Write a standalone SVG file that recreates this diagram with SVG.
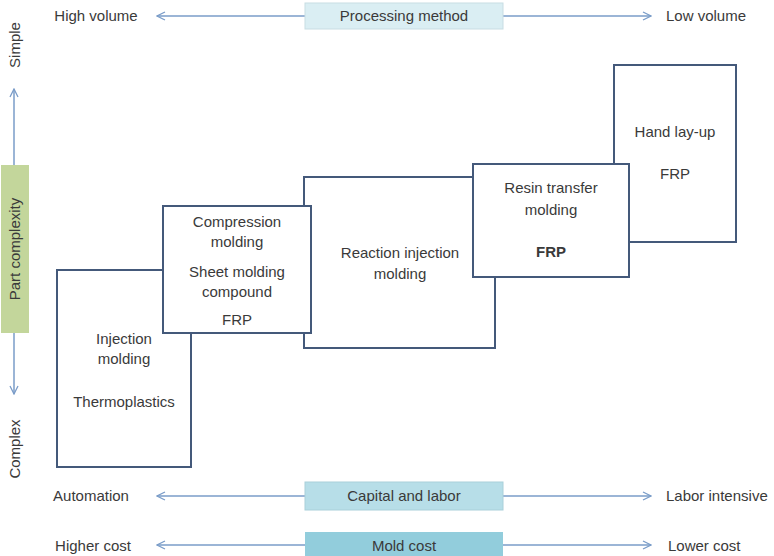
<svg xmlns="http://www.w3.org/2000/svg" width="774" height="556" viewBox="0 0 774 556">
<defs>
<marker id="ah" viewBox="0 0 10 10" refX="9" refY="5" markerWidth="10" markerHeight="10" markerUnits="userSpaceOnUse" orient="auto-start-reverse">
<path d="M1,1 L9,5 L1,9" fill="none" stroke="#7A9CC8" stroke-width="1.3"/>
</marker>
</defs>
<style>
text{font-family:"Liberation Sans",Arial,sans-serif;font-size:15px;fill:#3a3a3a;}
.c{text-anchor:middle;}
.b{font-weight:bold;}
.node{fill:#fff;stroke:#44597A;stroke-width:2;}
.conn{stroke:#7A9CC8;stroke-width:1.5;fill:none;}
</style>
<rect width="774" height="556" fill="#fff"/>
<g id="connectors">
<line class="conn" x1="305" y1="16" x2="157" y2="16" marker-end="url(#ah)"/>
<line class="conn" x1="503" y1="16" x2="651" y2="16" marker-end="url(#ah)"/>
<line class="conn" x1="305" y1="496" x2="157" y2="496" marker-end="url(#ah)"/>
<line class="conn" x1="503" y1="496" x2="651" y2="496" marker-end="url(#ah)"/>
<line class="conn" x1="305" y1="545" x2="157" y2="545" marker-end="url(#ah)"/>
<line class="conn" x1="503" y1="545" x2="651" y2="545" marker-end="url(#ah)"/>
<line class="conn" x1="14" y1="165" x2="14" y2="89" marker-end="url(#ah)"/>
<line class="conn" x1="14" y1="333" x2="14" y2="394" marker-end="url(#ah)"/>
</g>
<g id="axis-top">
<text x="96" y="21" class="c">High volume</text>
<rect x="305" y="3" width="198" height="26" fill="#DAEEF3" stroke="#C8DDE3" stroke-width="1"/>
<text x="404" y="21" class="c">Processing method</text>
<text x="666" y="21">Low volume</text>
</g>
<g id="axis-labor">
<text x="91" y="501" class="c">Automation</text>
<rect x="305" y="482" width="198" height="28" fill="#B7DEE8" stroke="#A9D0DA" stroke-width="1"/>
<text x="404" y="501" class="c">Capital and labor</text>
<text x="666" y="501">Labor intensive</text>
</g>
<g id="axis-cost">
<text x="93" y="551" class="c">Higher cost</text>
<rect x="305" y="532" width="198" height="24" fill="#92CDDC"/>
<text x="404" y="551" class="c">Mold cost</text>
<text x="668" y="551">Lower cost</text>
</g>
<g id="axis-left">
<text x="0" y="0" class="c" transform="translate(20,45) rotate(-90)">Simple</text>
<rect x="1" y="165" width="28" height="168" fill="#C3D69B"/>
<text x="0" y="0" class="c" transform="translate(20,249) rotate(-90)">Part complexity</text>
<text x="0" y="0" class="c" transform="translate(20,449) rotate(-90)">Complex</text>
</g>
<g id="injection">
<rect class="node" x="57" y="270" width="134" height="197"/>
<text x="124" y="344" class="c">Injection</text>
<text x="124" y="364" class="c">molding</text>
<text x="124" y="407" class="c">Thermoplastics</text>
</g>
<g id="reaction">
<rect class="node" x="304" y="177" width="191" height="171"/>
<text x="400" y="258" class="c">Reaction injection</text>
<text x="400" y="279" class="c">molding</text>
</g>
<g id="compression">
<rect class="node" x="163" y="206" width="148" height="127"/>
<text x="237" y="227" class="c">Compression</text>
<text x="237" y="247" class="c">molding</text>
<text x="237" y="277" class="c">Sheet molding</text>
<text x="237" y="297" class="c">compound</text>
<text x="237" y="325" class="c">FRP</text>
</g>
<g id="handlayup">
<rect class="node" x="614" y="65" width="122" height="177"/>
<text x="675" y="137" class="c">Hand lay-up</text>
<text x="675" y="179" class="c">FRP</text>
</g>
<g id="resin">
<rect class="node" x="473" y="164" width="156" height="113"/>
<text x="551" y="193" class="c">Resin transfer</text>
<text x="551" y="215" class="c">molding</text>
<text x="551" y="257" class="c b">FRP</text>
</g>
</svg>
